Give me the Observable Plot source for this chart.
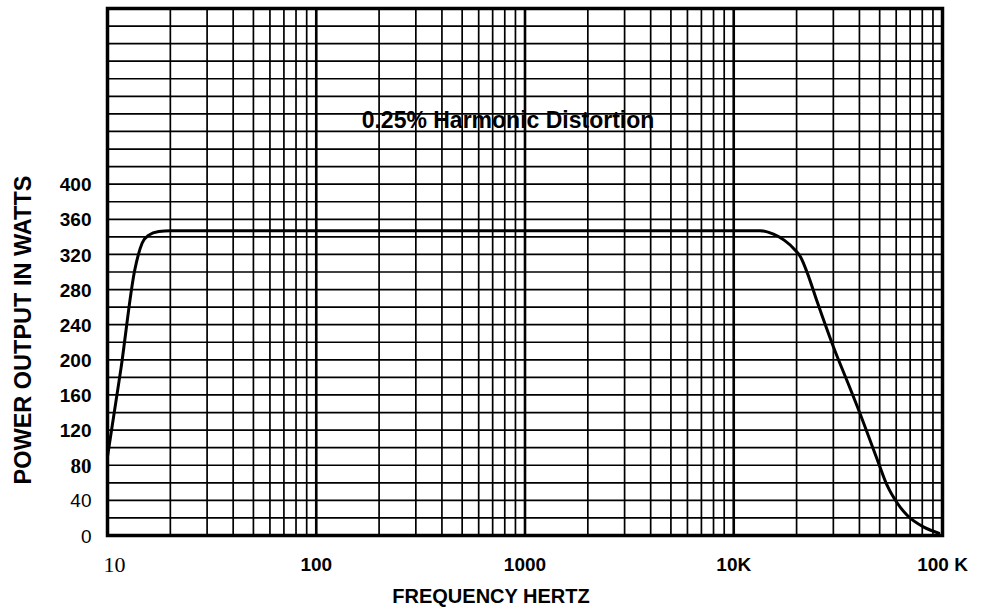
<!DOCTYPE html>
<html><head><meta charset="utf-8">
<script src="https://cdn.jsdelivr.net/npm/d3@7"></script>
<script src="https://cdn.jsdelivr.net/npm/@observablehq/plot@0.6"></script>
<style>html,body{margin:0;padding:0;background:#fff} svg{display:block}</style>
</head><body><div id="chart"></div>
<script>
// Curve: power output (W) vs frequency (Hz) at 0.25% harmonic distortion
const freqHz = [10, 11.6, 13.5, 14.66, 15.77, 17.6, 20, 50, 200, 1000, 5000, 13400, 15500, 17500, 19500, 20900, 22500, 25100, 30100, 35600, 39200, 49300, 54300, 60700, 67700, 81400, 96000];
const powerW = [90, 190, 302, 333, 342, 346, 347, 347, 347, 347, 347, 347, 343, 336, 326, 317, 299, 266, 214, 171, 146, 83, 57, 37, 23, 9.5, 2.6];

// Tick labels (grouped by the typeface used in the scan)
const yTicksBoldSans = [120, 160, 200, 240, 280, 320, 360, 400];
const yTicksBoldSerif = [80];
const yTicksPlainSans = [0, 40];
const xTickSerif = [10];
const xTickValues = [100, 1000, 10000, 100000];
const xTickLabels = ["100", "1000", "10K", "100 K"];
const xDecades = [100, 1000, 10000];

const titleText = "0.25% Harmonic Distortion";
const xTitle = "FREQUENCY HERTZ";
const yTitle = "POWER OUTPUT IN WATTS";

const curve = freqHz.map((f, i) => ({f, w: powerW[i]}));
const SANS = "'Liberation Sans', Arial, Helvetica, sans-serif";
const SERIF = "'Liberation Serif', 'Times New Roman', serif";

const chart = Plot.plot({
  width: 983,
  height: 612,
  marginLeft: 107,
  marginRight: 41,
  marginTop: 8,
  marginBottom: 77,
  style: {background: "#fff", color: "#000"},
  x: {type: "log", domain: [10, 100000], axis: null},
  y: {domain: [0, 600], axis: null},
  marks: [
    Plot.gridY({ticks: d3.range(0, 601, 20), stroke: "#000", strokeOpacity: 1, strokeWidth: 1.7}),
    Plot.gridX({ticks: 40, stroke: "#000", strokeOpacity: 1, strokeWidth: 1.7}),
    Plot.gridX({ticks: xDecades, stroke: "#000", strokeOpacity: 1, strokeWidth: 2.6}),
    Plot.frame({stroke: "#000", strokeWidth: 3.5}),
    Plot.line(curve, {x: "f", y: "w", stroke: "#000", strokeWidth: 3, curve: "monotone-x"}),
    Plot.text([titleText], {frameAnchor: "top", dx: -17, dy: 112, lineAnchor: "middle", fontSize: 23, fontWeight: "bold", fontFamily: SANS, fill: "#000"}),
    // y tick labels
    Plot.text(yTicksBoldSans, {y: d => d, text: d => String(d), frameAnchor: "left", textAnchor: "end", dx: -16, dy: 1, fontSize: 19, fontWeight: "bold", fontFamily: SANS, fill: "#000"}),
    Plot.text(yTicksBoldSerif, {y: d => d, text: d => String(d), frameAnchor: "left", textAnchor: "end", dx: -16, dy: 1, fontSize: 21, fontWeight: "bold", fontFamily: SERIF, fill: "#000"}),
    Plot.text(yTicksPlainSans, {y: d => d, text: d => String(d), frameAnchor: "left", textAnchor: "end", dx: -16, dy: 1, fontSize: 19, fontWeight: "normal", fontFamily: SANS, fill: "#000"}),
    // x tick labels
    Plot.text(xTickSerif, {x: d => d, text: d => String(d), frameAnchor: "bottom", textAnchor: "start", dx: -4, dy: 29, lineAnchor: "middle", fontSize: 22, fontFamily: SERIF, fill: "#000"}),
    Plot.text(xTickValues, {x: d => d, text: (d, i) => xTickLabels[i], frameAnchor: "bottom", dy: 29, lineAnchor: "middle", fontSize: 19, fontWeight: "bold", fontFamily: SANS, fill: "#000"}),
    // axis titles
    Plot.text([xTitle], {frameAnchor: "bottom", dx: -34, dy: 61, lineAnchor: "middle", fontSize: 20, fontWeight: "bold", fontFamily: SANS, fill: "#000"}),
    Plot.text([yTitle], {frameAnchor: "left", rotate: -90, textAnchor: "middle", lineAnchor: "middle", dx: -84, dy: 58, fontSize: 23.5, fontWeight: "bold", fontFamily: SANS, fill: "#000"})
  ]
});
document.getElementById("chart").appendChild(chart);
</script>
</body></html>
